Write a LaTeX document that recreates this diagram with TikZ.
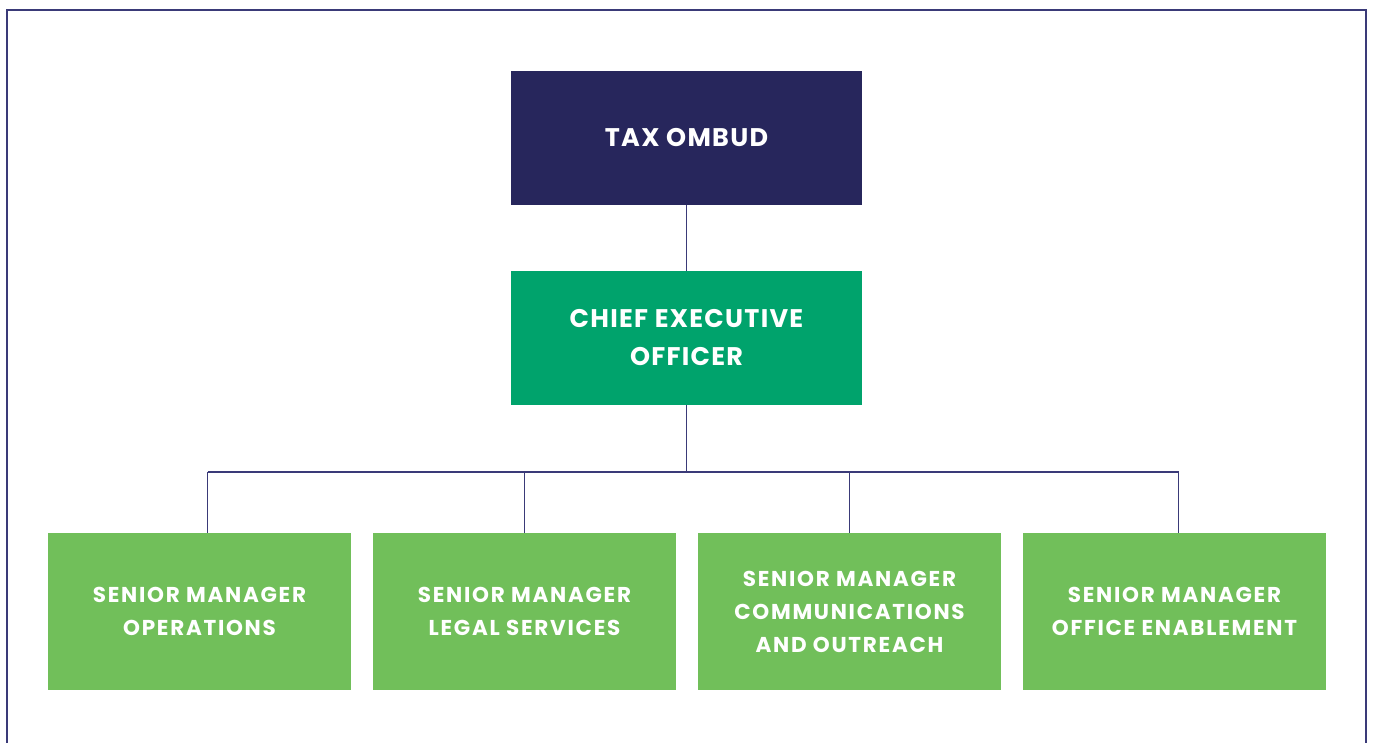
\documentclass[tikz,border=0pt]{standalone}
\usepackage{fontspec}
\setmainfont{Poppins}
\newfontfamily\headfont{Poppins}[LetterSpace=5]
\newfontfamily\mgrfont{Poppins}[LetterSpace=8]
\definecolor{navy}{HTML}{27265C}
\definecolor{ceogreen}{HTML}{00A36C}
\definecolor{mgrgreen}{HTML}{71BF5A}
\definecolor{rule}{HTML}{3A3A78}
\begin{document}
\begin{tikzpicture}[x=1pt,y=-1pt,
  box/.style={draw=none,inner sep=0pt,minimum width=351pt,minimum height=134pt,
    align=center,text=white,font=\headfont\bfseries\fontsize{25.5}{38}\selectfont},
  mgr/.style={draw=none,fill=mgrgreen,inner sep=0pt,minimum width=303pt,minimum height=157pt,
    align=center,text=white,font=\mgrfont\bfseries\fontsize{21.5}{33}\selectfont},
  link/.style={draw=rule,line width=1.2pt}]
\useasboundingbox (0,0) rectangle (1373,742);
\fill[white] (0,0) rectangle (1373,742);
% outer frame, open at the foot of the page
\draw[rule,line width=1.3pt] (7,745) -- (7,10) -- (1366,10) -- (1366,745);

\node[box,fill=navy] (ombud) at (686.5,138) {TAX OMBUD};
\node[box,fill=ceogreen] (ceo) at (686.5,338) {CHIEF EXECUTIVE\\OFFICER};

\node[mgr] (ops) at (199.5,611.5) {SENIOR MANAGER\\OPERATIONS};
\node[mgr] (legal) at (524.5,611.5) {SENIOR MANAGER\\LEGAL SERVICES};
\node[mgr] (comms) at (849.5,611.5) {SENIOR MANAGER\\COMMUNICATIONS\\AND OUTREACH};
\node[mgr] (office) at (1174.5,611.5) {SENIOR MANAGER\\OFFICE ENABLEMENT};

\coordinate (bus) at (686.5,472);
\draw[link] (ombud.south) -- (ceo.north);
\draw[link] (ceo.south) -- (bus);
\draw[link] (207.5,472) -- (1178.5,472);
\draw[link] (207.5,472) -- (ops.north -| 207.5,0);
\draw[link] (legal.north |- bus) -- (legal.north);
\draw[link] (comms.north |- bus) -- (comms.north);
\draw[link] (1178.5,472) -- (office.north -| 1178.5,0);
\end{tikzpicture}
\end{document}
